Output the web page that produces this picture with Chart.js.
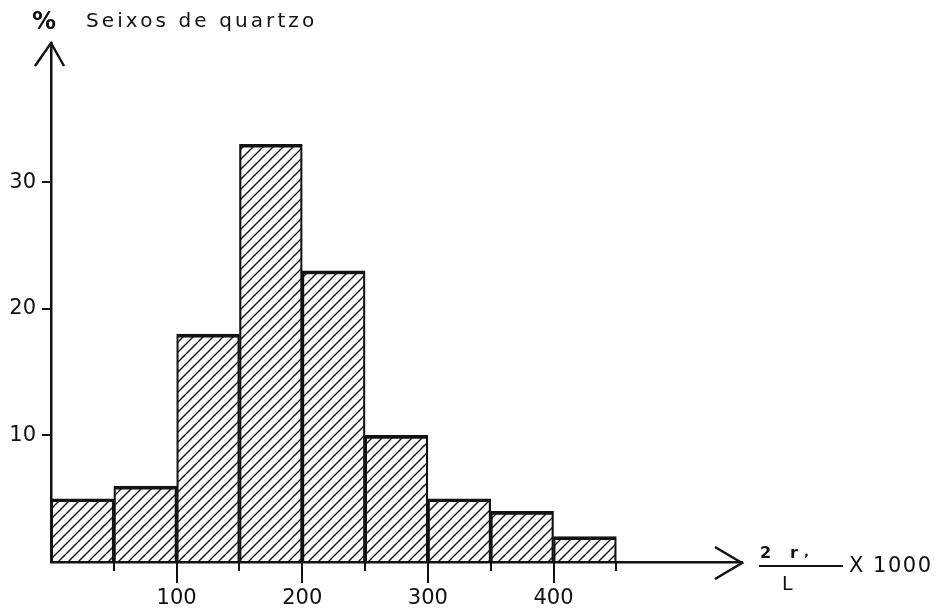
<!DOCTYPE html>
<html>
<head>
<meta charset="utf-8">
<script src="https://cdn.jsdelivr.net/npm/chart.js@4.4.1/dist/chart.umd.min.js"></script>
<style>
  html, body { margin: 0; padding: 0; background: #fff; }
  #wrap { width: 952px; height: 610px; position: relative; }
  canvas { display: block; }
</style>
</head>
<body>
<div id="wrap"><canvas id="chart" width="952" height="610"></canvas></div>
<script>
// Histogram of quartz pebbles: class width 50 on the 2r/L x 1000 axis
const binStarts = [0, 50, 100, 150, 200, 250, 300, 350, 400];
const binWidth = 50;
const percentages = [5, 6, 18, 33, 23, 10, 5, 4, 2];
const xTickLabels = [100, 200, 300, 400];
const xMinorTicks = [50, 150, 250, 350, 450];
const yTickLabels = [10, 20, 30];
const titleText = 'Seixos de quartzo';
const unitText = '%';

const INK = '#111';
const FONT = '"DejaVu Sans", "Liberation Sans", sans-serif';

// Diagonal "/" hatching used as the bar fill
function makeHatch() {
  const s = 10;
  const c = document.createElement('canvas');
  c.width = s; c.height = s;
  const g = c.getContext('2d');
  g.strokeStyle = INK;
  g.lineWidth = 1.4;
  g.beginPath();
  g.moveTo(-1, s + 1); g.lineTo(s + 1, -1);
  g.moveTo(-1, 1); g.lineTo(1, -1);
  g.moveTo(s - 1, s + 1); g.lineTo(s + 1, s - 1);
  g.stroke();
  return g.createPattern(c, 'repeat');
}

const points = binStarts.map((x0, i) => ({ x: x0 + binWidth / 2, y: percentages[i] }));

const decorations = {
  id: 'decorations',
  afterDraw(chart) {
    const ctx = chart.ctx;
    const xs = chart.scales.x, ys = chart.scales.y;
    const base = ys.getPixelForValue(0);
    const left = xs.getPixelForValue(0);
    ctx.save();
    ctx.strokeStyle = INK;
    ctx.fillStyle = INK;
    ctx.lineCap = 'butt';

    // tick marks under the x axis: long at hundreds, short at the fifties
    ctx.lineWidth = 2;
    xTickLabels.forEach(v => {
      const px = Math.round(xs.getPixelForValue(v));
      ctx.beginPath(); ctx.moveTo(px, base); ctx.lineTo(px, base + 21); ctx.stroke();
    });
    xMinorTicks.forEach(v => {
      const px = Math.round(xs.getPixelForValue(v));
      ctx.beginPath(); ctx.moveTo(px, base); ctx.lineTo(px, base + 9); ctx.stroke();
    });

    // open arrow heads at the ends of both axes
    ctx.lineWidth = 2.5;
    ctx.lineJoin = 'miter';
    const top = chart.chartArea.top;
    ctx.beginPath();
    ctx.moveTo(left - 16, top + 23); ctx.lineTo(left, top); ctx.lineTo(left + 13, top + 23);
    ctx.stroke();
    const right = chart.chartArea.right;
    ctx.beginPath();
    ctx.moveTo(right - 27, base - 15); ctx.lineTo(right, base + 1); ctx.lineTo(right - 27, base + 17);
    ctx.stroke();

    // axis titles
    ctx.textBaseline = 'alphabetic';
    ctx.textAlign = 'left';
    ctx.font = 'bold 24px ' + FONT;
    ctx.fillText(unitText, 32, 29);
    ctx.font = '20px ' + FONT;
    if ('letterSpacing' in ctx) ctx.letterSpacing = '3.1px';
    ctx.fillText(titleText, 86, 27);

    // x axis quantity: (2 r1 / L) x 1000
    if ('letterSpacing' in ctx) ctx.letterSpacing = '0px';
    ctx.font = 'bold 16px ' + FONT;
    ctx.fillText('2', 760, 558);
    ctx.fillText('r', 790, 558);
    ctx.font = 'bold 13px ' + FONT;
    ctx.fillText(',', 804, 556);
    ctx.font = '19px ' + FONT;
    ctx.fillText('L', 782, 590);
    ctx.lineWidth = 2.2;
    ctx.beginPath(); ctx.moveTo(759, 566); ctx.lineTo(843, 566); ctx.stroke();
    ctx.font = '21px ' + FONT;
    if ('letterSpacing' in ctx) ctx.letterSpacing = '1.5px';
    ctx.fillText('X 1000', 849, 572);
    ctx.restore();
  }
};

new Chart(document.getElementById('chart'), {
  type: 'bar',
  data: {
    datasets: [{
      data: points,
      backgroundColor: makeHatch(),
      borderColor: INK,
      borderWidth: { top: 3, left: 1.6, right: 1.6, bottom: 0 },
      borderSkipped: false,
      barPercentage: 1,
      categoryPercentage: 1
    }]
  },
  options: {
    responsive: false,
    animation: false,
    devicePixelRatio: 1,
    layout: { padding: { top: 43, right: 210, bottom: 0, left: 0 } },
    plugins: { legend: { display: false }, tooltip: { enabled: false } },
    scales: {
      x: {
        type: 'linear',
        min: 0,
        max: 550,
        offset: false,
        z: 1,
        afterBuildTicks: s => { s.ticks = xTickLabels.map(v => ({ value: v })); },
        afterFit: s => { s.height = 48; },
        grid: { display: false, drawTicks: false, offset: false },
        border: { display: true, color: INK, width: 2.5 },
        ticks: { color: INK, font: { family: FONT, size: 21 }, padding: 24, maxRotation: 0 }
      },
      y: {
        min: 0,
        max: 41,
        z: 1,
        afterBuildTicks: s => { s.ticks = yTickLabels.map(v => ({ value: v })); },
        afterFit: s => { s.width = 51; },
        grid: { drawOnChartArea: false, drawTicks: true, tickLength: 9, color: INK, lineWidth: 2 },
        border: { display: true, color: INK, width: 2.5 },
        ticks: { color: INK, font: { family: FONT, size: 21 }, padding: 6 }
      }
    }
  },
  plugins: [decorations]
});
</script>
</body>
</html>
